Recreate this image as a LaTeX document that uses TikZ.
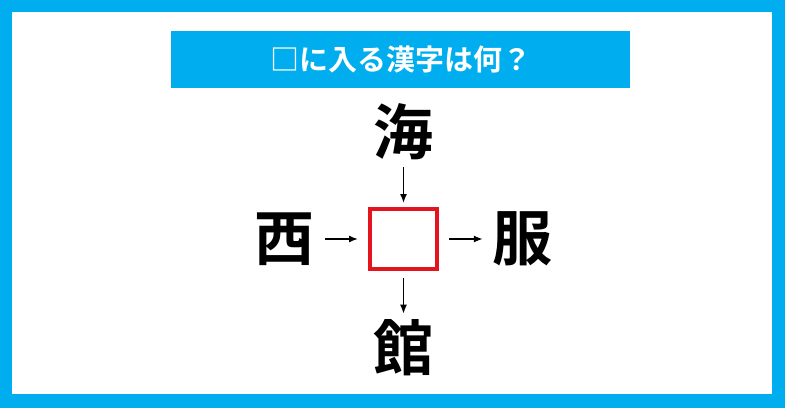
\documentclass[tikz,border=0pt]{standalone}
\usepackage{fontspec}
\usepackage{tikz}
\usetikzlibrary{arrows.meta}
\usetikzlibrary{positioning}
\newfontfamily\jpbold{Noto Sans CJK JP Bold}
\definecolor{quizblue}{RGB}{0,174,239}
\definecolor{quizred}{RGB}{228,20,30}
\tikzstyle{every node}+=[inner sep=0pt]
\tikzstyle{kanji} = [font=\jpbold\fontsize{60}{60}\selectfont, text=black]
\tikzstyle{blank} = [rectangle, draw=quizred, line width=4pt, minimum width=67pt, minimum height=60pt]
\tikzstyle{title} = [rectangle, fill=quizblue, text=white, font=\jpbold\fontsize{29}{29}\selectfont, minimum width=459pt, minimum height=57pt]
\tikzstyle{line} = [draw, -{Latex[length=9pt, width=7pt]}, line width=1.4pt]

\begin{document}
\begin{tikzpicture}[x=1pt, y=1pt]
            % Frame
            \fill [quizblue] (0,0) rectangle (785,408);
            \fill [white] (12,14) rectangle (772,396);
            \useasboundingbox (0,0) rectangle (785,408);
            % Place nodes
            \node [title] (q) at (400.5,348.5) {□に入る漢字は何？};
            \node [blank] (box) at (403.5,169) {};
            \node [kanji, above of=box, node distance=107pt] (top) {海};
            \node [kanji, left of=box, node distance=119.5pt] (left) {西};
            \node [kanji, right of=box, node distance=118.5pt] (right) {服};
            \node [kanji, below of=box, node distance=109pt] (bottom) {館};
            % Draw edges
            \path [line, shorten <=7pt, shorten >=4pt] (top) -- (box);
            \path [line, shorten <=11pt, shorten >=10pt] (left) -- (box);
            \path [line, shorten <=10pt, shorten >=9pt] (box) -- (right);
            \path [line, shorten <=7pt, shorten >=6pt] (box) -- (bottom);
\end{tikzpicture}
\end{document}
